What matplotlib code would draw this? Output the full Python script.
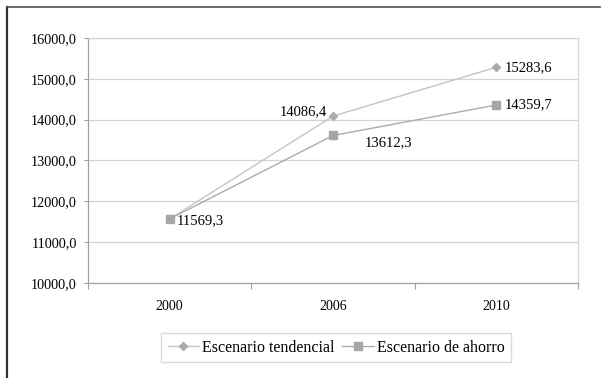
import matplotlib.pyplot as plt
import numpy as np
from matplotlib.lines import Line2D

plt.rcParams.update({'font.family': ['Liberation Serif', 'DejaVu Serif'], 'font.size': 10})

years = ['2000', '2006', '2010']
tendencial = [11569.3, 14086.4, 15283.6]
ahorro = [11569.3, 13612.3, 14359.7]

def fmt(v):
    return f"{v:.1f}".replace('.', ',')

fig = plt.figure(figsize=(6.09, 3.78), dpi=100)
ax = fig.add_axes([88 / 609, 1 - 283 / 378, 490 / 609, 245 / 378])

x = np.arange(len(years))
ax.plot(x, tendencial, color='#c4c4c4', lw=1, marker='D', ms=4.5,
        mfc='#ababab', mec='#ababab', zorder=3)
ax.plot(x, ahorro, color='#ababab', lw=1, marker='s', ms=6,
        mfc='#a6a6a6', mec='#a6a6a6', zorder=3)

# data labels
lbl = 10.5
ax.annotate(fmt(ahorro[0]), (x[0], ahorro[0]), xytext=(5, -1),
            textcoords='offset points', ha='left', va='center', fontsize=lbl)
ax.annotate(fmt(tendencial[1]), (x[1], tendencial[1]), xytext=(-4, 3),
            textcoords='offset points', ha='right', va='center', fontsize=lbl)
ax.annotate(fmt(ahorro[1]), (x[1], ahorro[1]), xytext=(23, -5),
            textcoords='offset points', ha='left', va='center', fontsize=lbl)
ax.annotate(fmt(tendencial[2]), (x[2], tendencial[2]), xytext=(6, 0),
            textcoords='offset points', ha='left', va='center', fontsize=lbl)
ax.annotate(fmt(ahorro[2]), (x[2], ahorro[2]), xytext=(6, 0),
            textcoords='offset points', ha='left', va='center', fontsize=lbl)

ax.set_xlim(-0.5, 2.5)
ax.set_ylim(10000, 16000)
ax.set_yticks(np.arange(10000, 16001, 1000))
ax.set_yticklabels([fmt(v) for v in np.arange(10000, 16001, 1000)])
ax.set_xticks(x)
ax.set_xticklabels(years)
ax.set_xticks(np.arange(-0.5, 3, 1), minor=True)
ax.tick_params(axis='x', which='major', length=0, pad=12, labelsize=10)
ax.tick_params(axis='x', which='minor', length=4, color='#a0a0a0', width=0.8)
ax.tick_params(axis='y', length=3, color='#a0a0a0', width=0.8, pad=5, labelsize=10.3)

ax.grid(axis='y', color='#d4d4d4', lw=0.9)
ax.set_axisbelow(True)
for s in ['top', 'right']:
    ax.spines[s].set_color('#d4d4d4')
for s in ['left', 'bottom']:
    ax.spines[s].set_color('#a0a0a0')
for s in ax.spines.values():
    s.set_linewidth(0.9)

handles = [
    Line2D([], [], color='#c4c4c4', lw=1, marker='D', ms=4.5, mfc='#ababab', mec='#ababab'),
    Line2D([], [], color='#ababab', lw=1, marker='s', ms=6, mfc='#a6a6a6', mec='#a6a6a6'),
]
fig.legend(handles, ['Escenario tendencial', 'Escenario de ahorro'],
           loc='center', bbox_to_anchor=(336 / 609, 1 - 347.5 / 378), ncol=2,
           fontsize=11.5, frameon=True, fancybox=False, edgecolor='#d0d0d0',
           handlelength=1.95, handletextpad=0.2, columnspacing=0.5, borderpad=0.4)

# outer frame: left and top only
fig.add_artist(Line2D([7 / 609, 7 / 609], [0, 1 - 7 / 378], color='#303030', lw=1.6,
                      transform=fig.transFigure))
fig.add_artist(Line2D([7 / 609, 600 / 609], [1 - 7 / 378, 1 - 7 / 378], color='#505050',
                      lw=1.2, transform=fig.transFigure))

fig.savefig('out.png', dpi=100)
